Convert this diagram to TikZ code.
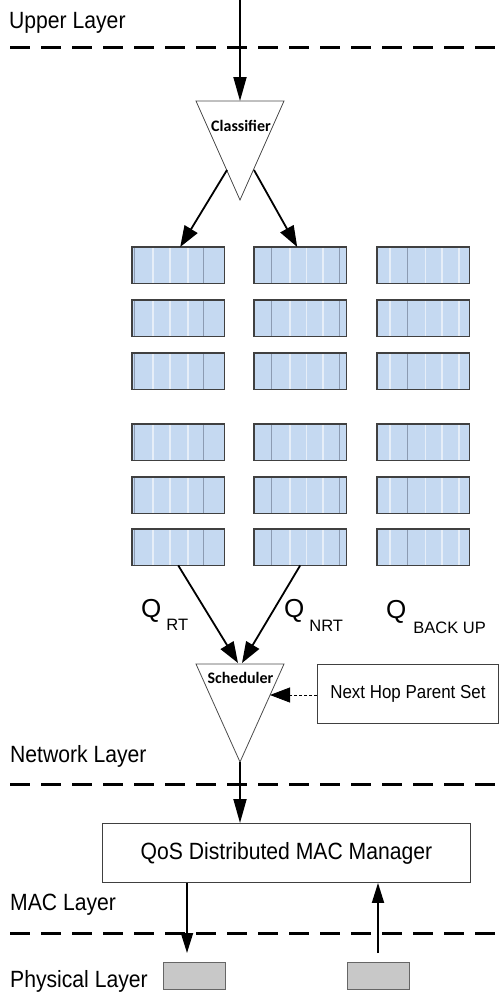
\documentclass[tikz,border=0pt]{standalone}
\usepackage{fontspec}
\setmainfont{Liberation Sans}
\newfontfamily\calib{Carlito}
\newfontfamily\narrowsans{Liberation Sans}[FakeStretch=0.9]
\usetikzlibrary{arrows.meta}
\definecolor{qblue}{RGB}{197,217,241}
\definecolor{qwhite}{RGB}{230,238,248}
\definecolor{qgray}{RGB}{140,155,178}
\definecolor{phygray}{RGB}{200,200,200}
\begin{document}
\begin{tikzpicture}[x=1pt,y=-1pt,
  layerline/.style={line width=3pt, dash pattern=on 19.5pt off 11.5pt},
  layertxt/.style={anchor=base west, inner sep=0pt, font=\narrowsans\fontsize{23.5}{26}\selectfont},
  arr/.style={line width=1.8pt, -{Triangle[length=24pt,width=13pt]}},
  darr/.style={line width=1.8pt, -{Triangle[length=21pt,width=15pt]}},
  sarr/.style={line width=1.8pt, -{Triangle[length=20pt,width=12pt]}},
  dasharr/.style={line width=0.8pt, dashed, dash pattern=on 3pt off 2pt, -{Triangle[length=20pt,width=15pt]}},
  tri/.style={draw=black!70, line width=0.8pt, fill=white},
  trilabel/.style={anchor=base, inner sep=0pt, font=\calib\bfseries\fontsize{16}{18}\selectfont},
  qbox/.style={fill=qblue, minimum width=92pt, minimum height=36pt, inner sep=0pt, anchor=north west, draw=none},
  qborder/.style={draw=black!75, line width=1.2pt},
  qbig/.style={anchor=base west, inner sep=0pt},
  plainbox/.style={draw=black!75, line width=0.9pt, fill=white, inner sep=0pt, anchor=north west},
  phybox/.style={draw=black!60, line width=0.9pt, fill=phygray, inner sep=0pt, anchor=north west, minimum width=62pt, minimum height=27pt}
]
\useasboundingbox (0,0) rectangle (499,998);

% layer lines and labels
\draw[layerline] (10,48) -- (499,48);
\draw[layerline] (10,784) -- (499,784);
\draw[layerline] (10,933) -- (499,933);
\node[layertxt] (upper) at (9,29) {Upper Layer};
\node[layertxt] (netl) at (10,762) {Network Layer};
\node[layertxt] (macl) at (10,910) {MAC Layer};
\node[layertxt] (phyl) at (10,987) {Physical Layer};

% queues
\foreach \c/\x/\w/\g in {1/132/{21,37.7,56}/{2.7,71}, 2/254/{35.7,52.3,69}/{17.3,85.7}, 3/377/{12.7,48.3,65,81.7}/{30}} {
  \foreach \r/\y in {1/247,2/300,3/353,4/424,5/477,6/529} {
    \node[qbox] (q\c\r) at (\x,\y) {};
    \foreach \o in \w {\draw[qwhite, line width=1.6pt] (\x+\o,\y) -- (\x+\o,\y+36);}
    \foreach \o in \g {\draw[qgray, line width=0.9pt] (\x+\o,\y) -- (\x+\o,\y+36);}
    \draw[qborder] (q\c\r.north west) rectangle (q\c\r.south east);
  }
}

% Q labels
\node[qbig] (qrt) at (141,617) {\fontsize{26}{28}\selectfont Q\hspace{5pt}\raisebox{-13pt}{\fontsize{16.5}{18}\selectfont RT}};
\node[qbig] (qnrt) at (284,617) {\fontsize{26}{28}\selectfont Q\hspace{5pt}\raisebox{-14pt}{\fontsize{16.5}{18}\selectfont NRT}};
\node[qbig] (qbak) at (386,618) {\fontsize{26}{28}\selectfont Q\hspace{7pt}\raisebox{-15pt}{\fontsize{16.5}{18}\selectfont BACK UP}};

% classifier
\coordinate (clsL) at (196,101);
\coordinate (clsR) at (284,101);
\coordinate (clsA) at (240,200);
\coordinate (clsTop) at (240,101);
\coordinate (clsOutL) at (227,170);
\coordinate (clsOutR) at (254,170);
\coordinate (topin) at (240,0);
\draw[tri] (clsL) -- (clsR) -- (clsA) -- cycle;
\node[trilabel] (cls) at (241,131) {Classifier};
\draw[arr] (topin) -- (clsTop);
\draw[darr] (clsOutL) -- ([xshift=2pt]q11.north);
\draw[darr] (clsOutR) -- ([xshift=-3pt]q21.north);

% scheduler
\coordinate (schL) at (196,664);
\coordinate (schR) at (284,664);
\coordinate (schA) at (240,762);
\coordinate (schInL) at (238,663);
\coordinate (schInR) at (242,663);
\coordinate (schSide) at (270,695);
\draw[tri] (schL) -- (schR) -- (schA) -- cycle;
\node[trilabel] (sch) at (240.5,683) {Scheduler};
\draw[darr] (q16.south) -- (schInL);
\draw[darr] (q26.south) -- (schInR);

% next hop parent set
\node[plainbox, minimum width=181pt, minimum height=59pt, font=\narrowsans\fontsize{18.8}{21}\selectfont] (nh) at (317,664) {Next Hop Parent Set};
\draw[dasharr] (nh.west |- schSide) -- (schSide);

% MAC manager
\node[plainbox, minimum width=368pt, minimum height=59pt, font=\narrowsans\fontsize{23.5}{26}\selectfont] (mac) at (102,823) {QoS Distributed MAC Manager};
\draw[arr] (schA) -- (schA |- mac.north);

% physical
\node[phybox] (phy1) at (163,962) {};
\node[phybox] (phy2) at (347,962) {};
\coordinate (dnEnd) at (187,953);
\coordinate (upStart) at (378,953);
\draw[sarr] (mac.south -| dnEnd) -- (dnEnd);
\draw[sarr] (upStart) -- (upStart |- mac.south);
\end{tikzpicture}
\end{document}
